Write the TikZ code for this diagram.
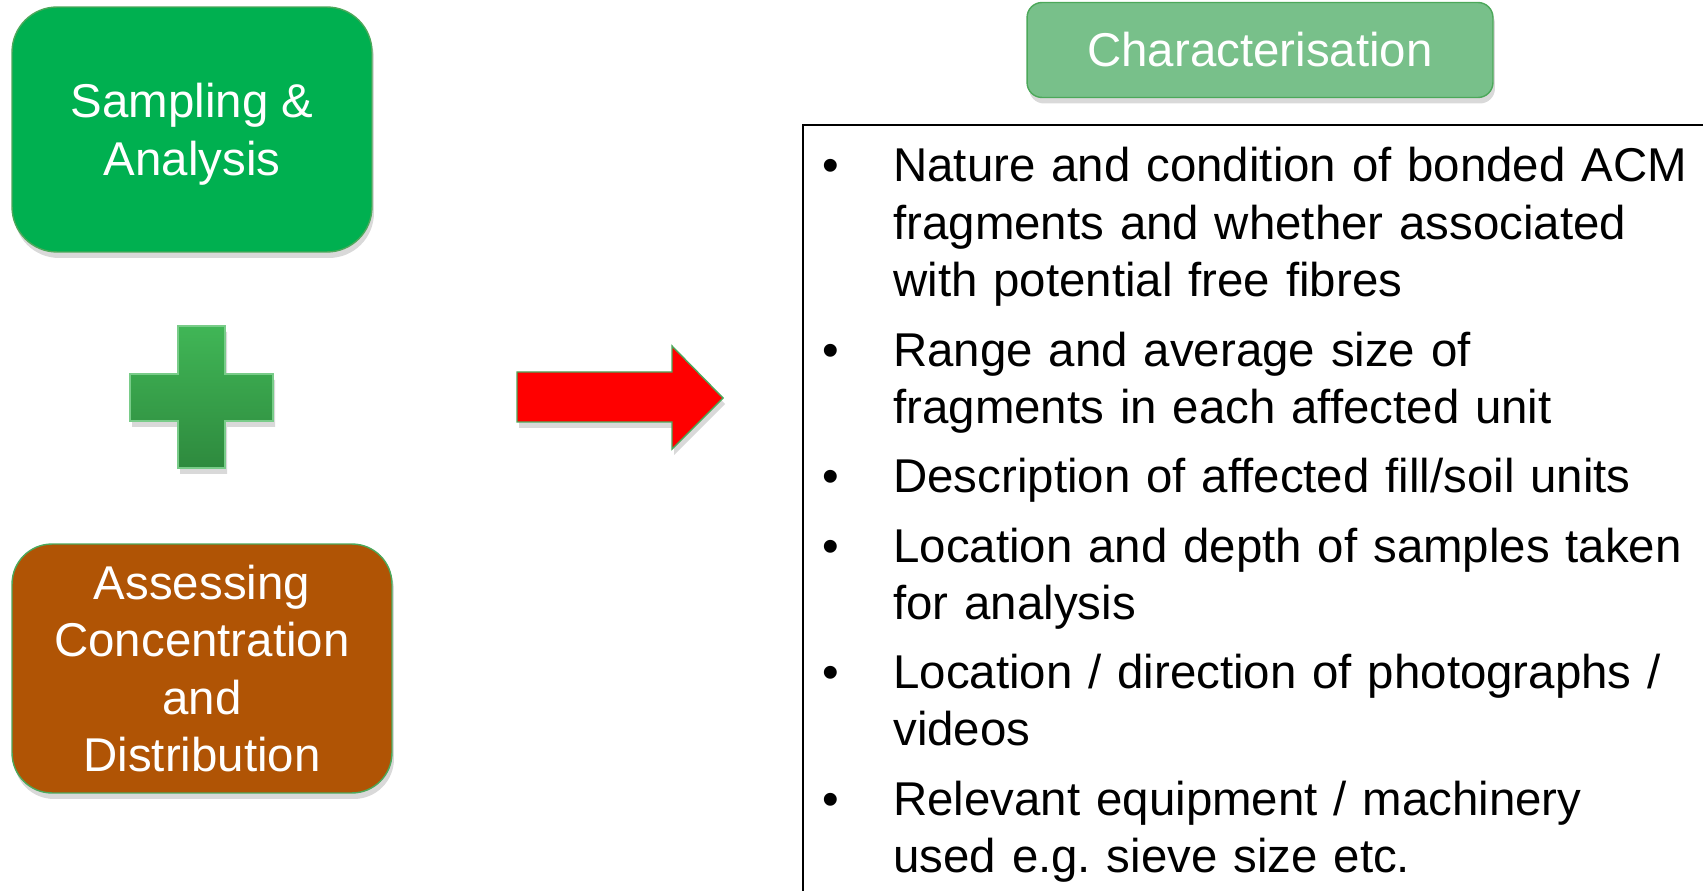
\documentclass[tikz,border=0pt]{standalone}
\usepackage{fontspec}
\setmainfont{Liberation Sans}
\usetikzlibrary{shadows, positioning}
\definecolor{sampgreen}{RGB}{0, 176, 80}
\definecolor{edgegreen}{RGB}{76, 168, 90}
\definecolor{assessbrown}{RGB}{176, 84, 5}
\definecolor{chargreen}{RGB}{120, 192, 138}
\definecolor{plustop}{RGB}{64, 182, 86}
\definecolor{plusbot}{RGB}{46, 138, 62}
\frenchspacing

\begin{document}
\begin{tikzpicture}[
  x=0.02cm, y=-0.02cm,
  every node/.style={font=\fontsize{27}{32.7}\selectfont},
  block/.style={
    draw=edgegreen, line width=0.8pt, text=white, align=center,
    inner sep=0pt,
    drop shadow={shadow xshift=0.4mm, shadow yshift=-1.2mm, opacity=0.3}
  },
  shape3d/.style={
    line width=0.8pt,
    drop shadow={shadow xshift=0.4mm, shadow yshift=-1.2mm, opacity=0.3}
  },
  bullet/.style={anchor=base, inner sep=0pt},
  item/.style={anchor=base west, inner sep=0pt, text width=17cm, align=left}
]
  \useasboundingbox (0,0) rectangle (1703,891);

  % Blocchi a sinistra
  \node[block, fill=sampgreen, rounded corners=0.9cm, text depth=0pt,
        minimum width=7.2cm, minimum height=4.9cm] (samp) at (192,129.5)
        {Sampling \&\\Analysis};
  \node[block, fill=assessbrown, rounded corners=0.8cm,
        minimum width=7.6cm, minimum height=4.98cm] (assess) at (202,668.5)
        {Assessing\\Concentration\\and\\Distribution};

  % Segno piu'
  \path[shape3d, top color=plustop, bottom color=plusbot, draw=plustop!70!white]
    (178,326) -- (225,326) -- (225,374) -- (273,374) -- (273,421)
    -- (225,421) -- (225,468) -- (178,468) -- (178,421) -- (130,421)
    -- (130,374) -- (178,374) -- cycle;

  % Freccia rossa
  \path[shape3d, fill=red, draw=edgegreen]
    (517,372) -- (672,372) -- (672,346) -- (723,398) -- (672,449)
    -- (672,422) -- (517,422) -- cycle;

  % Titolo a destra
  \node[block, fill=chargreen, rounded corners=0.3cm,
        minimum width=9.32cm, minimum height=1.9cm] (charac) at (1260,50)
        {Characterisation};

  % Riquadro con elenco
  \begin{scope}
    \clip (0,0) rectangle (1703,891);
    \draw[line width=1.1pt] (803,125) rectangle (1760,950);
  \end{scope}

  \node[bullet] (b1) at (831,182) {\textbullet};
  \node[item] (t1) at (893,182)
    {Nature and condition of bonded ACM\\fragments and whether associated\\with potential free fibres};
  \node[bullet] (b2) at (831,366.5) {\textbullet};
  \node[item] (t2) at (893,366.5)
    {Range and average size of\\fragments in each affected unit};
  \node[bullet] (b3) at (831,492.5) {\textbullet};
  \node[item] (t3) at (893,492.5)
    {Description of affected fill/soil units};
  \node[bullet] (b4) at (831,562) {\textbullet};
  \node[item] (t4) at (893,562)
    {Location and depth of samples taken\\for analysis};
  \node[bullet] (b5) at (831,688) {\textbullet};
  \node[item] (t5) at (893,688)
    {Location / direction of photographs /\\videos};
  \node[bullet] (b6) at (831,815) {\textbullet};
  \node[item] (t6) at (893,815)
    {Relevant equipment / machinery\\used e.g. sieve size etc.};

\end{tikzpicture}
\end{document}
